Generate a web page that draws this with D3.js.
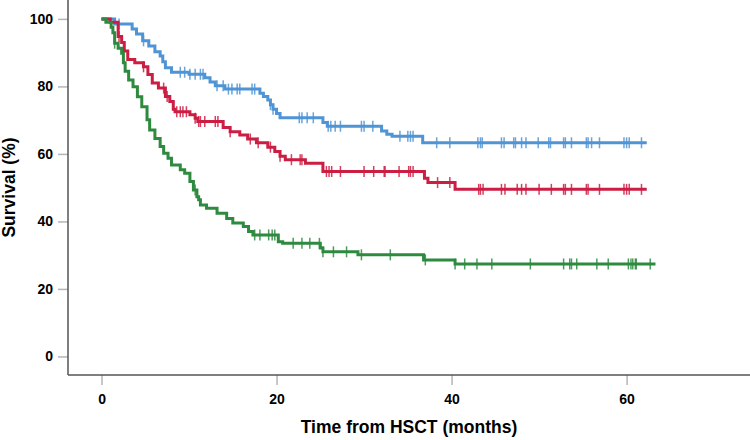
<!DOCTYPE html>
<html>
<head>
<meta charset="utf-8">
<script src="https://cdn.jsdelivr.net/npm/d3@7"></script>
<style>
  html, body { margin: 0; padding: 0; background: #fff; }
  svg { display: block; font-family: "Liberation Sans", Arial, sans-serif; }
</style>
</head>
<body>
<svg id="chart" width="750" height="440"></svg>
<script>
// ---- data ----
const xTicks = [0, 20, 40, 60];
const yTicks = [0, 20, 40, 60, 80, 100];

// step curves: [time (months), survival (%)] at each event
const blueSteps = [[0,100],[1.5,98.5],[3.5,97],[4,95.5],[4.7,93.5],[5.4,92],[6.1,90.3],[6.7,89],[7.0,87.3],[7.3,85.5],[8.0,84.2],[10.0,83.6],[11.8,82.6],[12.4,81.3],[13.0,80.2],[14.1,79.2],[18.1,78.0],[18.5,77.0],[19.0,76.0],[19.3,74.6],[19.6,73.2],[20.0,72.0],[20.4,70.7],[25.3,69.3],[25.8,68.2],[32.0,66.8],[32.6,65.8],[33.2,65.2],[36.7,63.3]];
const redSteps = [[0,100],[1.0,99],[1.9,94.8],[2.3,93],[2.6,90.5],[3.0,88],[3.8,87],[4.8,85.8],[5.3,83.5],[5.8,81],[6.5,79.5],[7.3,77],[7.8,75.5],[8.2,73.2],[8.4,72.5],[10.1,71.6],[10.7,70.6],[11.0,69.6],[13.9,67.8],[14.7,66.6],[15.8,65.6],[16.7,64.4],[17.7,63.3],[19.0,62.0],[19.8,60.7],[20.4,59.3],[21.0,58.3],[23.3,57.2],[25.3,54.8],[36.9,52.8],[37.3,51.5],[40.4,49.5]];
const greenSteps = [[0,100],[0.5,99],[1.1,97.5],[1.3,95.9],[1.5,92.8],[1.9,91.3],[2.3,89.8],[2.5,87],[2.7,84.5],[3.1,81.9],[3.6,79.9],[4.1,76.9],[4.6,74],[5.2,70.1],[5.5,67.1],[6.1,64.6],[6.7,62.2],[7.1,60.2],[7.6,58.7],[8.0,56.7],[9.0,55.3],[9.5,54.3],[10.1,51.8],[10.5,49.3],[10.9,47.3],[11.1,46.4],[11.3,44.9],[12.0,43.9],[13.2,42.4],[14.3,40.9],[15.0,39.5],[16.2,38.5],[16.8,37],[17.3,36],[20.2,34],[20.7,33.5],[25.0,32.1],[25.3,31],[29.3,30.1],[36.8,28.6],[40.4,27.4]];

// censored observation times (months)
const blueCensor = [2.0,4.8,9.0,9.5,10.1,10.7,11.3,11.6,13.2,13.9,14.5,14.9,15.5,15.8,17.2,17.5,19.3,19.6,22.6,22.9,23.5,24.2,25.9,26.2,26.7,27.3,29.7,30.0,31.0,34.1,35.0,35.3,35.6,38.3,39.8,43.0,43.3,43.5,45.7,46.0,47.1,47.3,48.0,48.5,49.9,51.1,51.3,52.8,53.0,53.7,55.4,55.6,56.0,56.9,59.7,60.0,60.3,61.7];
const redCensor = [2.0,4.8,7.1,7.5,8.6,9.0,9.3,9.7,10.7,11.1,11.3,11.8,13.0,13.3,14.7,17.0,17.9,19.3,20.4,21.7,22.7,22.9,25.7,26.0,26.3,27.3,30.0,31.1,32.3,32.4,34.0,35.1,35.3,35.6,38.4,39.8,43.1,43.3,43.6,45.7,46.1,47.5,48.0,48.5,50.0,51.4,52.8,53.0,53.7,55.4,55.6,56.9,59.7,60.0,60.3,61.7];
const greenCensor = [1.5,10.7,17.5,18.1,19.1,19.5,19.8,21.9,22.9,23.8,24.9,25.3,26.5,28.0,29.7,33.0,37.0,40.4,41.5,42.9,44.6,49.0,52.8,53.5,53.7,54.3,56.6,57.9,60.2,60.5,60.7,61.0,61.1,62.7];

// end of follow-up for each curve (months)
const followUpEnd = [62.3, 62.3, 63.3];

const seriesNames = ["blue", "red", "green"];
const seriesColors = ["#4f94d4", "#cc1d43", "#2e8a3f"];

const xTitle = "Time from HSCT (months)";
const yTitle = "Survival (%)";

// ---- layout ----
const svg = d3.select("#chart");
const mLeft = 68, mRight = 750, mTop = 0, mBottom = 375;

const x = d3.scaleLinear().domain([-3.83, 74.1]).range([mLeft, mRight]);
const y = d3.scaleLinear().domain([-5.5, 105.6]).range([mBottom, mTop]);

// axes
const yAxis = d3.axisLeft(y).tickValues(yTicks).tickSize(10).tickSizeOuter(0).tickPadding(5);
const xAxis = d3.axisBottom(x).tickValues(xTicks).tickSize(10).tickSizeOuter(0).tickPadding(9);

const gy = svg.append("g").attr("transform", `translate(${mLeft},0)`).call(yAxis);
const gx = svg.append("g").attr("transform", `translate(0,${mBottom})`).call(xAxis);

[gx, gy].forEach(g => {
  g.select(".domain").remove();
  g.selectAll(".tick line").attr("stroke", "#b5b5b5").attr("stroke-width", 1.5);
  g.selectAll(".tick text")
    .attr("fill", "#000")
    .style("font-size", "14px")
    .style("font-weight", "bold")
    .style("font-family", '"Liberation Sans", Arial, sans-serif');
});

// axis lines
svg.append("line").attr("x1", mLeft).attr("x2", mLeft).attr("y1", mTop).attr("y2", mBottom)
  .attr("stroke", "#555").attr("stroke-width", 1.5);
svg.append("line").attr("x1", mLeft).attr("x2", mRight).attr("y1", mBottom).attr("y2", mBottom)
  .attr("stroke", "#555").attr("stroke-width", 1.5);

// titles
svg.append("text")
  .attr("x", (mLeft + mRight) / 2).attr("y", 433)
  .attr("text-anchor", "middle")
  .style("font-size", "17.5px").style("font-weight", "bold")
  .text(xTitle);

svg.append("text")
  .attr("transform", `translate(15,${(mTop + mBottom) / 2}) rotate(-90)`)
  .attr("text-anchor", "middle")
  .style("font-size", "17.5px").style("font-weight", "bold")
  .text(yTitle);

// ---- curves ----
const allSteps = [blueSteps, redSteps, greenSteps];
const allCensor = [blueCensor, redCensor, greenCensor];

const line = d3.line()
  .x(d => x(d[0]))
  .y(d => y(d[1]))
  .curve(d3.curveStepAfter);

function survAt(steps, t) {
  let s = steps[0][1];
  for (const [ti, si] of steps) { if (ti <= t) s = si; else break; }
  return s;
}

allSteps.forEach((steps, i) => {
  const last = steps[steps.length - 1];
  const pts = steps.concat([[followUpEnd[i], last[1]]]);
  const g = svg.append("g").attr("class", "series-" + seriesNames[i]);
  g.append("path")
    .attr("d", line(pts))
    .attr("fill", "none")
    .attr("stroke", seriesColors[i])
    .attr("stroke-width", 3);
  g.selectAll("line.censor")
    .data(allCensor[i])
    .enter().append("line")
    .attr("class", "censor")
    .attr("x1", t => x(t)).attr("x2", t => x(t))
    .attr("y1", t => y(survAt(steps, t)) - 5.5)
    .attr("y2", t => y(survAt(steps, t)) + 5.5)
    .attr("stroke", seriesColors[i])
    .attr("stroke-opacity", 0.85)
    .attr("stroke-width", 1.5);
});
</script>
</body>
</html>
